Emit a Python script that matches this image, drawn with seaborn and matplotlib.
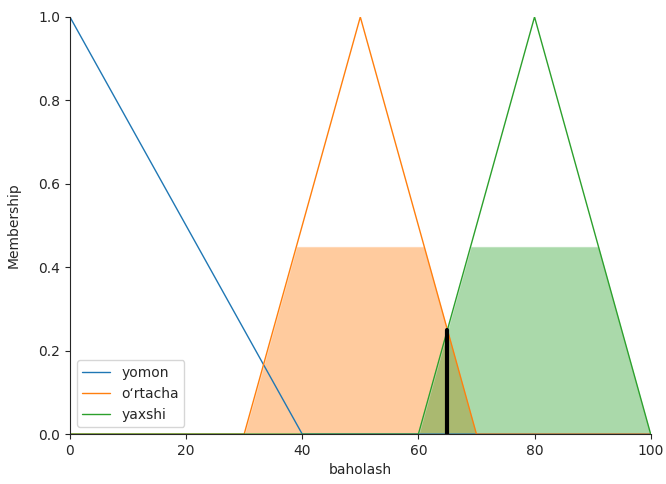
import numpy as np
import pandas as pd
import matplotlib
matplotlib.use("Agg")
import matplotlib.pyplot as plt
import seaborn as sns

# membership function vertices (x, membership)
yomon_x = [0, 40, 100]
yomon_y = [1.0, 0.0, 0.0]
ortacha_x = [0, 30, 50, 70, 100]
ortacha_y = [0.0, 0.0, 1.0, 0.0, 0.0]
yaxshi_x = [0, 60, 80, 100]
yaxshi_y = [0.0, 0.0, 1.0, 0.0]

# activated (clipped) regions
ortacha_fill_x = [30, 39, 61, 70]
ortacha_fill_y = [0.0, 0.45, 0.45, 0.0]
yaxshi_fill_x = [60, 69, 91, 100]
yaxshi_fill_y = [0.0, 0.45, 0.45, 0.0]

# crisp output
crisp_x = 65
crisp_y = 0.25

labels = ["yomon", "o\u2018rtacha", "yaxshi"]

sns.set_style("ticks")
fig = plt.figure(figsize=(6.66, 4.84), dpi=100)
ax = fig.add_axes([0.105, 0.103, 0.872, 0.862])

colors = sns.color_palette("tab10")
frames = []
for name, xs, ys in zip(labels, [yomon_x, ortacha_x, yaxshi_x], [yomon_y, ortacha_y, yaxshi_y]):
    frames.append(pd.DataFrame({"x": xs, "y": ys, "term": name}))
df = pd.concat(frames, ignore_index=True)

sns.lineplot(data=df, x="x", y="y", hue="term", palette=colors[:3],
             sort=False, estimator=None, linewidth=1.0, ax=ax)

ax.fill_between(ortacha_fill_x, 0, ortacha_fill_y, facecolor=colors[1], alpha=0.4)
ax.fill_between(yaxshi_fill_x, 0, yaxshi_fill_y, facecolor=colors[2], alpha=0.4)
ax.plot([crisp_x, crisp_x], [0, crisp_y], color="k", linewidth=3)

ax.set_xlim(0, 100)
ax.set_ylim(0, 1.0)
ax.set_xlabel("baholash")
ax.set_ylabel("Membership")
ax.yaxis.set_label_coords(-0.085, 0.5)
ax.legend(loc="lower left", title=None)
sns.despine(ax=ax)

fig.savefig("out.png", dpi=100)
